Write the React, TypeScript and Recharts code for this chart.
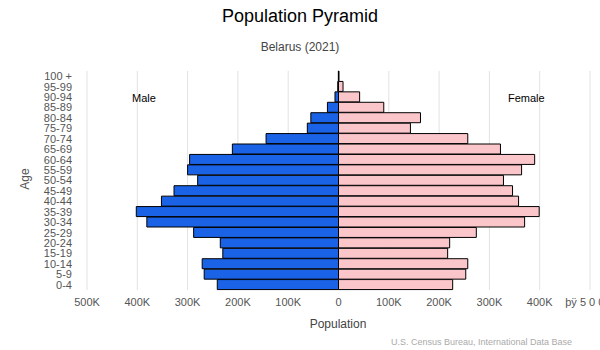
import { BarChart, Bar, XAxis, YAxis, CartesianGrid } from "recharts";

// 연령대 (아래에서 위로)
const AGE_GROUPS = [
  "0-4", "5-9", "10-14", "15-19", "20-24", "25-29", "30-34", "35-39",
  "40-44", "45-49", "50-54", "55-59", "60-64", "65-69", "70-74", "75-79",
  "80-84", "85-89", "90-94", "95-99", "100 +",
];

// 남성 인구
const MALE = [
  241000, 267000, 271000, 230000, 235000, 288000, 381000, 402000,
  352000, 327000, 280000, 300000, 296000, 211000, 144000, 62000,
  55000, 22000, 7000, 1500, 300,
];

// 여성 인구
const FEMALE = [
  227000, 253000, 257000, 217000, 221000, 274000, 370000, 399000,
  358000, 346000, 328000, 364000, 390000, 322000, 257000, 143000,
  163000, 90000, 42000, 9000, 1000,
];

const X_TICKS = [-500000, -400000, -300000, -200000, -100000, 0, 100000, 200000, 300000, 400000, 500000];

const data = AGE_GROUPS.map((age, i) => ({
  age,
  male: -MALE[i],
  female: FEMALE[i],
}));

const formatTick = (v: number) => {
  if (v === 500000) return "þÿ 5 0 0 K";
  if (v === 0) return "0";
  return `${Math.abs(v) / 1000}K`;
};

const font = "'Liberation Sans', Arial, sans-serif";

export default function App() {
  return (
    <div style={{ position: "absolute", left: 0, top: 0, width: 600, height: 350, fontFamily: font, overflow: "hidden", background: "#fff" }}>
      <div style={{ position: "absolute", top: 6, left: 0, width: 600, textAlign: "center", fontSize: 18, color: "#000" }}>
        Population Pyramid
      </div>
      <div style={{ position: "absolute", top: 40, left: 0, width: 600, textAlign: "center", fontSize: 12, color: "#444" }}>
        Belarus (2021)
      </div>

      <BarChart
        width={600}
        height={350}
        data={data}
        layout="vertical"
        stackOffset="sign"
        barCategoryGap={0}
        margin={{ top: 71, right: 10, left: 0, bottom: 40 }}>
        <CartesianGrid horizontal={false} vertical={true} stroke="#e2e2e2" />
        <XAxis
          type="number"
          domain={[-500000, 500000]}
          ticks={X_TICKS}
          interval={0}
          tickFormatter={formatTick}
          axisLine={false}
          tickLine={false}
          tick={{ fontSize: 11, fill: "#555", fontFamily: font }}
          height={20}
        />
        <YAxis
          type="category"
          dataKey="age"
          reversed
          width={87}
          axisLine={false}
          tickLine={false}
          interval={0}
          tick={{ fontSize: 11, fill: "#555", fontFamily: font, dx: -7 }}
        />
        <Bar dataKey="male" stackId="pop" fill="#1a63e6" stroke="#000" strokeWidth={1} isAnimationActive={false} />
        <Bar dataKey="female" stackId="pop" fill="#fbc6ca" stroke="#000" strokeWidth={1} isAnimationActive={false} />
      </BarChart>

      <div style={{ position: "absolute", top: 92, left: 132, fontSize: 11, color: "#000" }}>Male</div>
      <div style={{ position: "absolute", top: 92, left: 508, fontSize: 11, color: "#000" }}>Female</div>
      <div style={{ position: "absolute", top: 172, left: 14, fontSize: 12, color: "#555", transform: "rotate(-90deg)", transformOrigin: "center" }}>
        Age
      </div>
      <div style={{ position: "absolute", top: 317, left: 0, width: 676, textAlign: "center", fontSize: 12, color: "#444" }}>
        Population
      </div>
      <div style={{ position: "absolute", top: 337, right: 28, fontSize: 9, color: "#aaa" }}>
        U.S. Census Bureau, International Data Base
      </div>
    </div>
  );
}
